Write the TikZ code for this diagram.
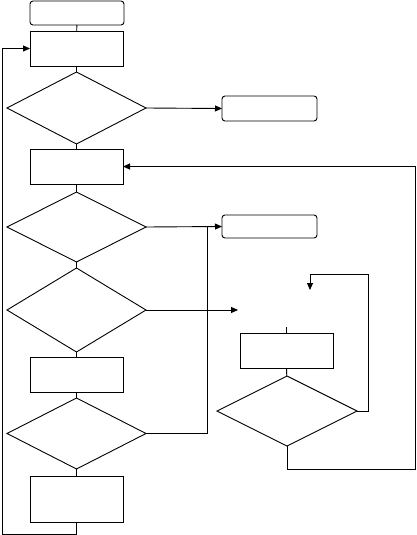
\documentclass[tikz,border=0pt]{standalone}
\usetikzlibrary{shapes.geometric,arrows.meta}
\begin{document}
\begin{tikzpicture}[x=1pt,y=-1pt,
  line width=0.9pt,
  every node/.style={inner sep=0pt,outer sep=0pt,draw},
  rbox/.style={rectangle,rounded corners=3pt,minimum width=#1},
  pbox/.style={rectangle,minimum width=93pt},
  dia/.style={diamond,minimum width=139pt},
  arr/.style={-{Triangle[length=7pt,width=6pt]}}]
\useasboundingbox (0,0) rectangle (416,535);
% main column
\node[rbox=94pt,minimum height=24pt] (start) at (77,13) {};
\node[pbox,minimum height=35pt] (b2) at (76.5,48.5) {};
\node[dia,minimum height=72pt] (d1) at (76.5,108) {};
\node[rbox=95pt,minimum height=25pt] (e1) at (269.5,108.5) {};
\node[pbox,minimum height=35pt] (b3) at (76.5,166.5) {};
\node[dia,minimum height=70pt] (d2) at (76.5,227) {};
\node[rbox=95pt,minimum height=23pt] (e2) at (269.5,226.5) {};
\node[dia,minimum height=84pt] (d3) at (76.5,310) {};
\node[pbox,minimum height=35pt] (b4) at (76.5,374.5) {};
\node[dia,minimum height=71pt] (d4) at (76.5,433.5) {};
\node[pbox,minimum height=46pt] (b5) at (76.5,499) {};
% right part
\node[pbox,minimum height=35pt] (b6) at (286.5,350.5) {};
\node[diamond,minimum width=140pt,minimum height=70pt] (d5) at (287,411) {};
% free ends
\coordinate (j1) at (207,227);
\coordinate (t3) at (238,310);
\coordinate (s6) at (286.5,327);
\coordinate (tr) at (368,274);
\coordinate (t5) at (310,290);
\coordinate (rloop) at (415,469);
\coordinate (bl) at (2.5,534);
% connectors
\draw (start) -- (b2);
\draw (b2) -- (d1);
\draw[arr] (d1.east) -- (e1.west);
\draw (d1) -- (b3);
\draw (b3) -- (d2);
\draw[arr] (d2.east) -- (e2.west);
\draw (d2) -- (d3);
\draw[arr] (d3.east) -- (t3);
\draw (d3) -- (b4);
\draw (b4) -- (d4);
\draw (d4.east) -| (j1);
\draw (d4) -- (b5);
\draw[arr] (b5.south) |- (bl) |- (b2.west);
\draw (s6) -- (b6.north);
\draw (b6) -- (d5);
\draw[arr] (d5.east) -| (tr) -| (t5);
\draw[arr] (d5.south) |- (rloop) |- (b3.east);
\end{tikzpicture}
\end{document}
